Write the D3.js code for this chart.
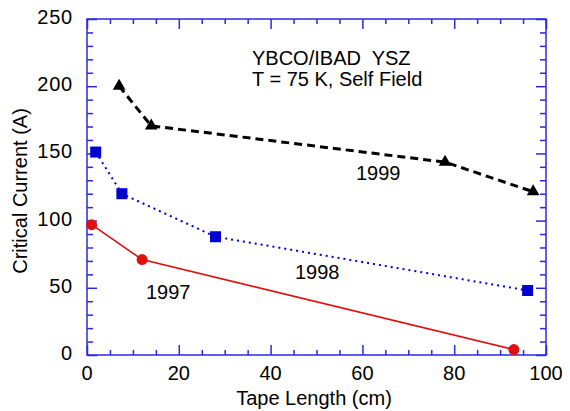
<!DOCTYPE html>
<html><head><meta charset="utf-8">
<script src="https://cdn.jsdelivr.net/npm/d3@7"></script>
<style>body{margin:0;background:#fff}svg{display:block}text{font-family:"Liberation Sans",Arial,sans-serif}</style>
</head><body>
<svg id="c" width="570" height="411"></svg>
<script>
const x1999 = [7, 14, 78, 97.2];
const y1999 = [200, 170.5, 143.5, 121.5];
const x1998 = [1.9, 7.6, 28, 96];
const y1998 = [151, 120, 88, 48];
const x1997 = [1, 12, 93];
const y1997 = [97, 71, 4];
const xTicks = [0, 20, 40, 60, 80, 100];
const yTicks = [0, 50, 100, 150, 200, 250];

const svg = d3.select("#c");
const L = 87, R = 546, T = 19, B = 355;
const x = d3.scaleLinear().domain([0, 100]).range([L, R]);
const y = d3.scaleLinear().domain([0, 250]).range([B, T]);
const axisColor = "#2a2ae0";

svg.append("rect").attr("x", L).attr("y", T).attr("width", R - L).attr("height", B - T)
  .attr("fill", "none").attr("stroke", axisColor).attr("stroke-width", 1.5);

function ticks(axisGen, tr, vals, size) {
  const g = svg.append("g").attr("transform", tr)
    .call(axisGen.tickValues(vals).tickSize(size).tickFormat(""));
  g.select(".domain").remove();
  g.selectAll("line").attr("stroke", axisColor).attr("stroke-width", 1.5);
}
const xMinor = d3.range(0, 101, 5).filter(v => v % 20 !== 0);
const yMinor = d3.range(0, 251, 10).filter(v => v % 50 !== 0);
ticks(d3.axisTop(x), `translate(0,${B})`, xTicks, 10);
ticks(d3.axisTop(x), `translate(0,${B})`, xMinor, 5);
ticks(d3.axisBottom(x), `translate(0,${T})`, xTicks, 10);
ticks(d3.axisBottom(x), `translate(0,${T})`, xMinor, 5);
ticks(d3.axisRight(y), `translate(${L},0)`, yTicks, 10);
ticks(d3.axisRight(y), `translate(${L},0)`, yMinor, 6);
ticks(d3.axisLeft(y), `translate(${R},0)`, yTicks, 10);
ticks(d3.axisLeft(y), `translate(${R},0)`, yMinor, 6);

svg.selectAll(".xl").data(xTicks).enter().append("text")
  .attr("x", d => x(d)).attr("y", B + 25).attr("text-anchor", "middle")
  .attr("font-size", 20).text(d => d);
svg.selectAll(".yl").data(yTicks).enter().append("text")
  .attr("x", L - 14).attr("y", d => y(d) + 5).attr("text-anchor", "end")
  .attr("font-size", 20).attr("letter-spacing", 0.8).text(d => d);

svg.append("text").attr("x", 314).attr("y", 405).attr("text-anchor", "middle")
  .attr("font-size", 20).text("Tape Length (cm)");
svg.append("text").attr("transform", `translate(27,191) rotate(-90)`)
  .attr("text-anchor", "middle").attr("font-size", 20).text("Critical Current (A)");

svg.append("text").attr("x", 252).attr("y", 65).attr("font-size", 20).attr("xml:space", "preserve").text("YBCO/IBAD  YSZ");
svg.append("text").attr("x", 252).attr("y", 86).attr("font-size", 20).text("T = 75 K, Self Field");

const line = d3.line().x(d => x(d[0])).y(d => y(d[1]));
const d99 = x1999.map((v, i) => [v, y1999[i]]);
const d98 = x1998.map((v, i) => [v, y1998[i]]);
const d97 = x1997.map((v, i) => [v, y1997[i]]);

svg.append("path").datum(d99).attr("d", line).attr("fill", "none").attr("stroke", "#000")
  .attr("stroke-width", 3).attr("stroke-dasharray", "8,5");
svg.append("path").datum(d98).attr("d", line).attr("fill", "none").attr("stroke", "#0000dd")
  .attr("stroke-width", 2).attr("stroke-dasharray", "2,4");
svg.append("path").datum(d97).attr("d", line).attr("fill", "none").attr("stroke", "#e01010")
  .attr("stroke-width", 1.6);

const tri = d3.symbol().type(d3.symbolTriangle).size(70);
svg.selectAll(".t").data(d99).enter().append("path").attr("d", tri)
  .attr("transform", d => `translate(${x(d[0])},${y(d[1])})`).attr("fill", "#000");
svg.selectAll(".s").data(d98).enter().append("rect")
  .attr("x", d => x(d[0]) - 5.5).attr("y", d => y(d[1]) - 5.5).attr("width", 11).attr("height", 11)
  .attr("fill", "#0000d0");
svg.selectAll(".c").data(d97).enter().append("circle")
  .attr("cx", d => x(d[0])).attr("cy", d => y(d[1])).attr("r", 5.5).attr("fill", "#e01010");

svg.append("text").attr("x", 356).attr("y", 180).attr("font-size", 20).text("1999");
svg.append("text").attr("x", 295).attr("y", 279).attr("font-size", 20).text("1998");
svg.append("text").attr("x", 146).attr("y", 299).attr("font-size", 20).text("1997");
</script>
</body></html>
